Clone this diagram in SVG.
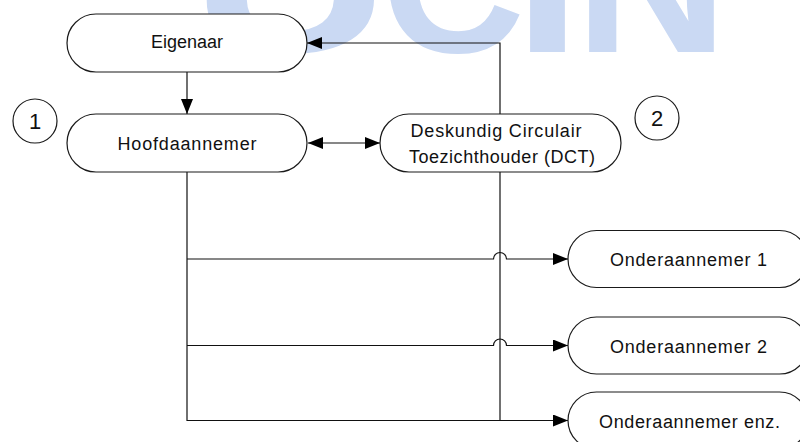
<svg xmlns="http://www.w3.org/2000/svg" width="800" height="442" viewBox="0 0 800 442">
  <defs>
    <style>
      .box { fill: #ffffff; stroke: #1a1a1a; stroke-width: 1.2; }
      .lbl { font-family: "Liberation Sans", Arial, sans-serif; font-size: 18px; fill: #111111; text-anchor: middle; }
      .num { font-family: "Liberation Sans", Arial, sans-serif; font-size: 22px; fill: #111111; text-anchor: middle; }
      .conn { fill: none; stroke: #111111; stroke-width: 1.2; }
      .wm { font-family: "Liberation Sans", Arial, sans-serif; font-weight: bold; font-size: 200px; fill: #cad9f3; }
    </style>
    <marker id="arr" viewBox="0 0 15 12" refX="15" refY="6" markerWidth="15" markerHeight="12" markerUnits="userSpaceOnUse" orient="auto-start-reverse">
      <path d="M0,0 L15,6 L0,12 Z" fill="#000000"/>
    </marker>
  </defs>
  <rect width="800" height="442" fill="#ffffff"/>
  <g id="watermark">
    <text class="wm" x="190" y="52" textLength="201" lengthAdjust="spacingAndGlyphs">U</text>
    <text class="wm" x="381" y="52" textLength="144" lengthAdjust="spacingAndGlyphs">C</text>
    <text class="wm" x="514" y="52" textLength="67" lengthAdjust="spacingAndGlyphs">I</text>
    <text class="wm" x="575" y="52" textLength="153" lengthAdjust="spacingAndGlyphs">N</text>
  </g>

  <g id="connectors">
    <path class="conn" d="M187,72 V114" marker-end="url(#arr)"/>
    <path class="conn" d="M308,143 H380" marker-start="url(#arr)" marker-end="url(#arr)"/>
    <path class="conn" d="M500,114 V43 H307" marker-end="url(#arr)"/>
    <path class="conn" d="M187,172 V420.5 H568" marker-end="url(#arr)"/>
    <path class="conn" d="M500,172 V420.5"/>
    <path class="conn" d="M187,259 H493.5 A6.5,6.5 0 0 1 506.5,259 H568" marker-end="url(#arr)"/>
    <path class="conn" d="M187,345.5 H493.5 A6.5,6.5 0 0 1 506.5,345.5 H568" marker-end="url(#arr)"/>
  </g>

  <g id="eigenaar">
    <rect class="box" x="67" y="14" width="240" height="58" rx="29" ry="29"/>
    <text class="lbl" x="187" y="48" textLength="72" lengthAdjust="spacing">Eigenaar</text>
  </g>
  <g id="badge1">
    <circle class="box" cx="35" cy="121" r="22"/>
    <text class="num" x="35" y="128.5">1</text>
  </g>
  <g id="hoofdaannemer">
    <rect class="box" x="67" y="114" width="240" height="58" rx="29" ry="29"/>
    <text class="lbl" x="187" y="149.5" textLength="139" lengthAdjust="spacing">Hoofdaannemer</text>
  </g>
  <g id="dct">
    <rect class="box" x="380" y="114" width="241" height="58" rx="29" ry="29"/>
    <text class="lbl" x="496" y="136.5" textLength="171" lengthAdjust="spacing">Deskundig Circulair</text>
    <text class="lbl" x="502" y="163" textLength="186" lengthAdjust="spacing">Toezichthouder (DCT)</text>
  </g>
  <g id="badge2">
    <circle class="box" cx="657" cy="118" r="22"/>
    <text class="num" x="657" y="125.5">2</text>
  </g>
  <g id="onderaannemer1">
    <rect class="box" x="568" y="230.5" width="240" height="57" rx="28.5" ry="28.5"/>
    <text class="lbl" x="688.5" y="266" textLength="157" lengthAdjust="spacing">Onderaannemer 1</text>
  </g>
  <g id="onderaannemer2">
    <rect class="box" x="568" y="317" width="240" height="57" rx="28.5" ry="28.5"/>
    <text class="lbl" x="688.5" y="352.5" textLength="157" lengthAdjust="spacing">Onderaannemer 2</text>
  </g>
  <g id="onderaannemer-enz">
    <rect class="box" x="568" y="392" width="240" height="57" rx="28.5" ry="28.5"/>
    <text class="lbl" x="689.5" y="427.5" textLength="181" lengthAdjust="spacing">Onderaannemer enz.</text>
  </g>
</svg>
